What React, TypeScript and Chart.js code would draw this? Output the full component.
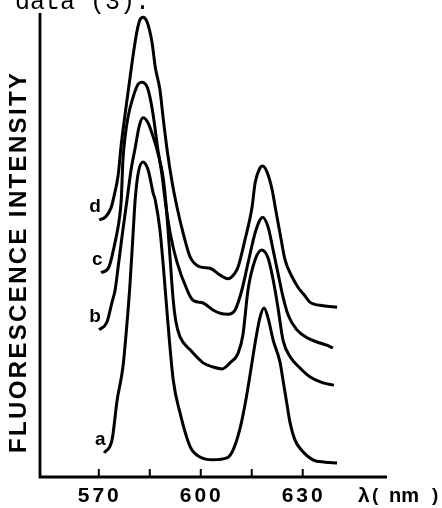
import React, { useEffect, useRef } from "react";
import { Chart, registerables } from "chart.js";

Chart.register(...registerables);

// ---- data (wavelength in nm, fluorescence intensity in arbitrary units) ----
const curveNames = ["a", "b", "c", "d"];

const nmA = [571.6, 573.9, 575.4, 577.1, 578.3, 579.2, 580.1, 580.7, 581.6, 583.0, 584.5, 586.0, 586.6, 588.0, 589.2, 590.1, 591.9, 593.9, 596.9, 599.8, 603.6, 607.7, 609.5, 611.6, 613.0, 614.5, 616.0, 617.4, 618.6, 619.8, 621.3, 623.3, 624.2, 625.4, 626.3, 627.7, 629.2, 633.0, 636.6, 640.1];
const intA = [5.2, 8.0, 16.6, 23.7, 33.2, 41.8, 52.6, 59.7, 65.5, 67.9, 66.2, 61.2, 59.7, 53.2, 43.5, 35.3, 20.9, 13.8, 6.5, 4.3, 3.7, 4.1, 5.8, 10.6, 15.5, 22.0, 28.9, 34.3, 36.4, 34.3, 29.5, 24.8, 20.9, 15.5, 11.6, 8.0, 6.2, 3.7, 3.2, 3.0];

const nmB = [570.1, 572.4, 573.9, 574.8, 575.7, 576.9, 578.3, 579.5, 580.7, 581.9, 583.0, 584.5, 586.0, 587.4, 588.9, 589.8, 590.7, 591.9, 592.7, 593.9, 596.9, 600.7, 603.6, 606.3, 608.6, 611.0, 612.4, 613.9, 616.0, 617.9, 619.8, 621.3, 622.7, 624.2, 626.3, 629.2, 632.1, 636.0, 639.2];
const intB = [31.7, 33.4, 37.7, 40.3, 45.3, 52.2, 59.7, 66.2, 70.9, 75.6, 77.4, 76.3, 73.3, 69.8, 64.7, 58.6, 50.0, 38.1, 33.4, 30.2, 27.4, 24.6, 23.7, 23.3, 24.6, 26.7, 30.6, 40.3, 46.8, 48.9, 47.2, 42.5, 36.6, 29.5, 25.9, 23.5, 21.6, 20.3, 19.8];

const nmC = [570.7, 573.0, 574.5, 575.4, 576.0, 576.6, 577.1, 577.7, 578.6, 580.1, 581.6, 582.7, 584.2, 585.1, 586.0, 587.4, 588.6, 589.5, 591.0, 593.0, 596.0, 597.7, 600.7, 603.6, 605.7, 608.0, 610.1, 612.1, 613.9, 616.0, 617.4, 618.2, 619.8, 621.3, 622.7, 624.2, 625.7, 628.3, 631.3, 634.2, 637.1, 638.9];
const intC = [44.0, 45.3, 49.6, 52.8, 55.4, 59.7, 68.3, 73.1, 77.6, 81.9, 84.7, 85.1, 84.1, 81.7, 78.0, 70.5, 65.1, 59.7, 52.6, 46.3, 40.3, 38.1, 37.5, 36.0, 35.3, 35.1, 36.0, 40.3, 46.1, 52.6, 55.4, 56.0, 53.9, 48.9, 44.0, 38.8, 34.9, 31.7, 30.0, 29.1, 28.4, 27.8];

const nmD = [570.1, 571.9, 573.6, 574.5, 575.7, 576.6, 577.7, 578.9, 580.1, 581.3, 582.1, 583.0, 584.2, 585.7, 586.6, 588.0, 588.9, 590.1, 591.6, 593.0, 594.8, 596.9, 599.8, 602.7, 605.7, 608.0, 610.1, 611.0, 613.0, 615.1, 616.0, 617.4, 618.2, 619.5, 621.0, 621.9, 623.3, 624.8, 626.9, 628.6, 630.7, 632.1, 636.0, 640.1];
const intD = [55.4, 56.0, 58.0, 60.6, 65.1, 71.6, 78.0, 84.5, 90.9, 96.3, 98.5, 99.1, 98.1, 93.5, 88.4, 83.4, 77.6, 70.5, 63.4, 58.2, 52.6, 47.4, 45.3, 45.0, 43.5, 42.7, 44.0, 45.3, 51.1, 58.2, 63.4, 66.6, 67.0, 65.7, 61.9, 58.2, 52.6, 46.8, 43.1, 40.9, 39.0, 37.7, 36.9, 36.6];

const seriesNm = [nmA, nmB, nmC, nmD];
const seriesInt = [intA, intB, intC, intD];

const tickValues = [570, 585, 600, 615, 630];
const labeledTicks = [570, 600, 630];
const tickLabels = ["570", "600", "630"];
const xTitleParts = ["λ", "(", "nm", ")"];
const yTitle = "FLUORESCENCE INTENSITY";
const caption = "data (3).";

const X_MIN = 552.7;
const X_MAX = 654.8;
const Y_MIN = 0;
const Y_MAX = 100;

function drawSpaced(ctx: CanvasRenderingContext2D, text: string, x: number, y: number, target: number) {
  const chars = Array.from(text);
  const widths = chars.map((c) => ctx.measureText(c).width);
  const sum = widths.reduce((a, b) => a + b, 0);
  const gap = chars.length > 1 ? (target - sum) / (chars.length - 1) : 0;
  let cx = x;
  ctx.textAlign = "left";
  chars.forEach((c, i) => {
    ctx.fillText(c, cx, y);
    cx += widths[i] + gap;
  });
}

const decor = {
  id: "decor",
  afterDatasetsDraw(chart: any) {
    const { ctx, chartArea: ca, scales } = chart;
    const xs = scales.x;
    const ys = scales.y;
    ctx.save();
    ctx.strokeStyle = "#000";
    ctx.fillStyle = "#000";
    ctx.lineCap = "butt";
    ctx.lineJoin = "miter";

    // axes
    ctx.lineWidth = 2.8;
    ctx.beginPath();
    ctx.moveTo(ca.left, ca.top);
    ctx.lineTo(ca.left, ca.bottom);
    ctx.lineTo(ca.right, ca.bottom);
    ctx.stroke();

    // inward tick marks
    ctx.lineWidth = 2;
    tickValues.forEach((v) => {
      const px = xs.getPixelForValue(v);
      ctx.beginPath();
      ctx.moveTo(px, ca.bottom);
      ctx.lineTo(px, ca.bottom - 8);
      ctx.stroke();
    });

    // tick labels
    ctx.font = "bold 21px 'Liberation Sans', Arial, sans-serif";
    ctx.textBaseline = "alphabetic";
    labeledTicks.forEach((v, i) => {
      const px = xs.getPixelForValue(v);
      drawSpaced(ctx, tickLabels[i], px - 21, ca.bottom + 25, 41);
    });

    // x title: λ( nm)
    const base = ca.bottom + 25;
    const xr = ca.right;
    ctx.textAlign = "left";
    ctx.font = "bold 21px 'Liberation Sans', Arial, sans-serif";
    ctx.fillText(xTitleParts[0], xr - 29, base);
    ctx.font = "bold 19px 'Liberation Sans', Arial, sans-serif";
    ctx.fillText(xTitleParts[1], xr - 15, base - 1);
    ctx.font = "bold 20px 'Liberation Sans', Arial, sans-serif";
    ctx.fillText(xTitleParts[2], xr + 2, base);
    ctx.font = "bold 19px 'Liberation Sans', Arial, sans-serif";
    ctx.fillText(xTitleParts[3], xr + 45, base - 1);

    // y title (rotated)
    ctx.save();
    ctx.translate(ca.left - 14, ca.bottom - 24);
    ctx.rotate(-Math.PI / 2);
    ctx.font = "bold 24px 'Liberation Sans', Arial, sans-serif";
    drawSpaced(ctx, yTitle, 0, 0, 380);
    ctx.restore();

    // caption fragment at top
    ctx.font = "25px 'Liberation Mono', 'Courier New', monospace";
    ctx.textAlign = "left";
    ctx.fillText(caption, 15, 9);

    // curve labels near the start of each curve
    ctx.font = "bold 19px 'Liberation Sans', Arial, sans-serif";
    ctx.textAlign = "center";
    ctx.textBaseline = "middle";
    curveNames.forEach((name, i) => {
      const px = xs.getPixelForValue(seriesNm[i][0]);
      const py = ys.getPixelForValue(seriesInt[i][0]);
      ctx.fillText(name, px - 4, py - 13);
    });

    ctx.restore();
  },
};

export default function App() {
  const canvasRef = useRef<HTMLCanvasElement | null>(null);

  useEffect(() => {
    const canvas = canvasRef.current;
    if (!canvas) return;
    const chart = new Chart(canvas, {
      type: "line",
      data: {
        datasets: curveNames.map((name, i) => ({
          label: name,
          data: seriesNm[i].map((x, j) => ({ x, y: seriesInt[i][j] })),
          borderColor: "#000",
          borderWidth: 3,
          pointRadius: 0,
          cubicInterpolationMode: "monotone" as const,
          fill: false,
        })),
      },
      options: {
        responsive: false,
        devicePixelRatio: 1,
        animation: false,
        layout: { padding: { left: 40, top: 13, right: 55, bottom: 31 } },
        scales: {
          x: { type: "linear", min: X_MIN, max: X_MAX, display: false },
          y: { type: "linear", min: Y_MIN, max: Y_MAX, display: false },
        },
        plugins: { legend: { display: false }, tooltip: { enabled: false } },
      },
      plugins: [decor],
    });
    return () => chart.destroy();
  }, []);

  return (
    <div style={{ position: "absolute", left: 0, top: 0, width: 442, height: 508, background: "#fff" }}>
      <canvas ref={canvasRef} width={442} height={508} style={{ display: "block" }} />
    </div>
  );
}
